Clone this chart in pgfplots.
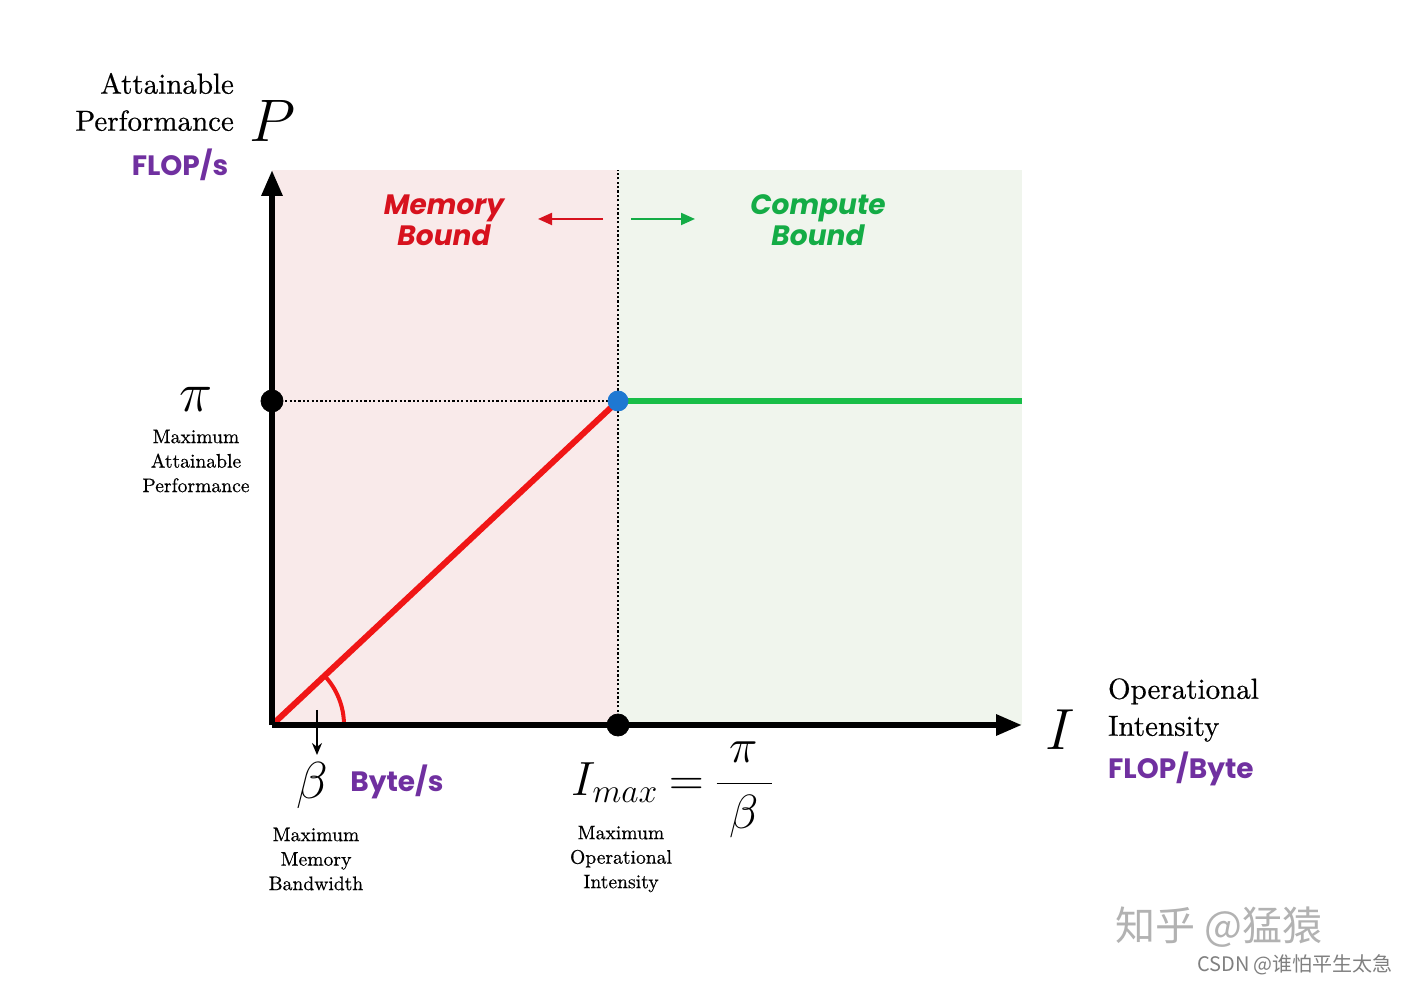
\RequirePackage{fix-cm}
\documentclass[border=0pt]{standalone}
\usepackage{fontspec}
\usepackage{pgfplots}
\pgfplotsset{compat=1.18}
\usetikzlibrary{arrows.meta}
\newfontfamily\pop{Poppins}
\newfontfamily\cjk{Noto Sans CJK SC}
\newfontfamily\gs{lmroman10-regular}[Extension=.otf, FakeBold=0.5]
\definecolor{pinkbg}{RGB}{249,234,234}
\definecolor{greenbg}{RGB}{240,245,237}
\definecolor{redline}{RGB}{240,22,22}
\definecolor{greenline}{RGB}{24,190,72}
\definecolor{bluedot}{RGB}{30,120,210}
\definecolor{purp}{RGB}{112,48,160}
\definecolor{memred}{RGB}{215,18,30}
\definecolor{compgreen}{RGB}{20,172,70}
\tikzset{purple label/.style={font=\pop\bfseries\fontsize{14}{14}\selectfont, text=purp}}
\begin{document}
\begin{tikzpicture}
\path[use as bounding box, fill=white] (0,0) rectangle (703pt,492pt);
\begin{axis}[
  at={(136pt,129.5pt)}, anchor=south west,
  scale only axis, width=375pt, height=277.5pt,
  xmin=0, xmax=750, ymin=0, ymax=555,
  axis lines=left,
  axis line style={line width=3pt, -{Triangle[length=13pt,width=10pt]}},
  xtick=\empty, ytick=\empty,
  clip=false, axis on top,
]
% regions
\addplot[draw=none, fill=pinkbg] coordinates {(0,0)(346,0)(346,555)(0,555)} -- cycle;
\addplot[draw=none, fill=greenbg] coordinates {(346,0)(750,0)(750,555)(346,555)} -- cycle;
% dotted guides
\addplot[black, line width=1pt, dash pattern=on 1.1pt off 1.1pt] coordinates {(346,0)(346,555)};
\addplot[black, line width=1pt, dash pattern=on 1.1pt off 1.1pt] coordinates {(0,324)(346,324)};
% roofline
\addplot[redline, line width=3pt] coordinates {(0,0)(346,324)};
\addplot[greenline, line width=3pt] coordinates {(346,324)(750,324)};
\draw[redline, line width=2pt] (axis cs:72,0) arc[start angle=0, end angle=43.1, radius=36pt];
% points
\addplot[only marks, mark=*, mark size=5.5pt, black] coordinates {(0,324)(346,0)};
\addplot[only marks, mark=*, mark size=5pt, bluedot, mark options={draw=bluedot, fill=bluedot}] coordinates {(346,324)};
% y labels
\node[anchor=east, align=right, font=\gs\fontsize{14.5}{18.5}\selectfont] at (axis cs:-31,623) {Attainable\\Performance};
\node[font=\fontsize{30}{30}\selectfont] at (axis cs:1,604) {$P$};
\node[purple label] at (axis cs:-92,560) {FLOP/s};
\node[font=\fontsize{28}{28}\selectfont] at (axis cs:-76,326) {$\pi$};
\node[align=center, font=\gs\fontsize{9.8}{12.25}\selectfont] at (axis cs:-76,264) {Maximum\\Attainable\\Performance};
% bandwidth
\draw[-{Stealth[length=6pt,width=5pt]}, line width=0.8pt] (axis cs:45,15) -- (axis cs:45,-30);
\node[font=\fontsize{26}{26}\selectfont] at (axis cs:40,-60) {$\beta$};
\node[purple label] at (axis cs:125,-57) {Byte/s};
\node[align=center, font=\gs\fontsize{9.8}{12.25}\selectfont] at (axis cs:44,-134) {Maximum\\Memory\\Bandwidth};
% Imax
\node[font=\fontsize{24}{24}\selectfont] at (axis cs:401,-65) {$\displaystyle I_{max}\mkern-1mu=\mkern-1mu\frac{\mkern5mu\pi\mkern5mu}{\beta}$};
\node[align=center, font=\gs\fontsize{9.8}{12.25}\selectfont] at (axis cs:349,-134) {Maximum\\Operational\\Intensity};
% x labels
\node[font=\fontsize{29}{29}\selectfont] at (axis cs:788,-5) {$I$};
\node[anchor=west, align=left, font=\gs\fontsize{14.5}{18.5}\selectfont] at (axis cs:829,15) {Operational\\Intensity};
\node[anchor=west, purple label] at (axis cs:829,-44) {FLOP/Byte};
% regions text
\node[align=center, font=\pop\bfseries\itshape\fontsize{14}{15.5}\selectfont, text=memred] at (axis cs:172,505) {Memory\\Bound};
\node[align=center, font=\pop\bfseries\itshape\fontsize{14}{15.5}\selectfont, text=compgreen] at (axis cs:546,505) {Compute\\Bound};
\draw[-{Triangle[length=7pt,width=6pt]}, line width=1pt, memred] (axis cs:331,506) -- (axis cs:266,506);
\draw[-{Triangle[length=7pt,width=6pt]}, line width=1pt, compgreen] (axis cs:359,506) -- (axis cs:423,506);
% watermark
\node[font=\cjk\fontsize{20}{20}\selectfont, text=black!30] at (axis cs:947,-202) {知乎 @猛猿};
\node[font=\cjk\fontsize{10}{10}\selectfont, text=black!50] at (axis cs:1023,-240) {CSDN @谁怕平生太急};
\end{axis}
\end{tikzpicture}
\end{document}
